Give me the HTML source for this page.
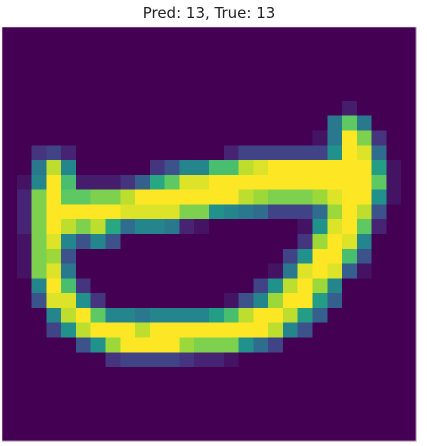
<!DOCTYPE html>
<html><head><meta charset="utf-8"><style>
html,body{margin:0;padding:0;background:#fff;width:427px;height:446px;overflow:hidden}
svg{display:block}
</style></head><body>
<svg id="chart" width="427" height="446" viewBox="0 0 427 446" xmlns="http://www.w3.org/2000/svg">
<text x="209" y="18" text-anchor="middle" font-family="DejaVu Sans, Liberation Sans, sans-serif" font-size="15" fill="#222">Pred: 13, True: 13</text>
<g id="cells" shape-rendering="crispEdges"></g>
<rect x="2" y="27" width="414" height="414" fill="none" stroke="#ddd" stroke-width="0.6"/>
</svg>
<script>
const predLabel = 13;
const trueLabel = 13;
const pixelRows = [
[0,0,0,0,0,0,0,0,0,0,0,0,0,0,0,0,0,0,0,0,0,0,0,0,0,0,0,0],
[0,0,0,0,0,0,0,0,0,0,0,0,0,0,0,0,0,0,0,0,0,0,0,0,0,0,0,0],
[0,0,0,0,0,0,0,0,0,0,0,0,0,0,0,0,0,0,0,0,0,0,0,0,0,0,0,0],
[0,0,0,0,0,0,0,0,0,0,0,0,0,0,0,0,0,0,0,0,0,0,0,0,0,0,0,0],
[0,0,0,0,0,0,0,0,0,0,0,0,0,0,0,0,0,0,0,0,0,0,0,0,0,0,0,0],
[0,0,0,0,0,0,0,0,0,0,0,0,0,0,0,0,0,0,0,0,0,0,0,8,0,0,0,0],
[0,0,0,0,0,0,0,0,0,0,0,0,0,0,0,0,0,0,0,0,0,0,40,75,40,0,0,0],
[0,0,0,0,0,0,0,0,0,0,0,0,0,0,0,0,0,0,0,0,0,5,40,100,80,15,0,0],
[0,0,15,20,10,0,0,0,0,0,0,0,0,0,0,10,20,20,20,20,20,20,50,100,95,35,0,0],
[0,0,40,90,45,0,0,0,0,0,15,25,45,45,70,70,90,95,100,100,100,100,100,100,100,55,5,0],
[0,5,45,100,70,8,8,8,15,30,60,75,95,95,100,100,100,100,100,100,100,100,100,100,100,75,5,0],
[0,10,80,100,75,75,80,80,90,100,100,100,100,100,100,100,90,85,80,80,80,85,95,100,100,50,5,0],
[0,10,80,100,100,100,100,100,95,95,95,95,80,80,50,45,40,35,20,20,20,35,85,100,90,25,0,0],
[0,10,80,100,90,80,90,60,35,45,45,40,10,5,0,0,0,0,0,0,5,50,95,100,75,10,0,0],
[0,5,80,95,45,25,45,25,0,0,0,0,0,0,0,0,0,0,0,0,15,85,100,95,45,0,0,0],
[0,5,80,85,25,0,0,0,0,0,0,0,0,0,0,0,0,0,0,20,50,100,100,70,25,0,0,0],
[0,5,80,95,40,0,0,0,0,0,0,0,0,0,0,0,0,0,5,40,95,100,95,30,5,0,0,0],
[0,0,45,100,70,15,0,0,0,0,0,0,0,0,0,0,0,20,50,90,100,85,45,0,0,0,0,0],
[0,0,25,95,95,50,15,0,0,0,0,0,0,0,0,5,25,45,85,100,100,55,30,0,0,0,0,0],
[0,0,0,45,90,100,75,45,45,40,45,45,45,45,55,70,90,100,100,90,55,30,0,0,0,0,0,0],
[0,0,0,20,50,90,100,100,100,90,100,100,100,100,100,100,100,100,90,45,25,0,0,0,0,0,0,0],
[0,0,0,0,0,25,50,85,100,100,100,100,85,80,80,80,50,35,20,0,0,0,0,0,0,0,0,0],
[0,0,0,0,0,0,0,15,20,20,20,20,15,10,10,5,0,0,0,0,0,0,0,0,0,0,0,0],
[0,0,0,0,0,0,0,0,0,0,0,0,0,0,0,0,0,0,0,0,0,0,0,0,0,0,0,0],
[0,0,0,0,0,0,0,0,0,0,0,0,0,0,0,0,0,0,0,0,0,0,0,0,0,0,0,0],
[0,0,0,0,0,0,0,0,0,0,0,0,0,0,0,0,0,0,0,0,0,0,0,0,0,0,0,0],
[0,0,0,0,0,0,0,0,0,0,0,0,0,0,0,0,0,0,0,0,0,0,0,0,0,0,0,0],
[0,0,0,0,0,0,0,0,0,0,0,0,0,0,0,0,0,0,0,0,0,0,0,0,0,0,0,0]
];
const plotX = 2, plotY = 27, plotSize = 414;
const nRows = pixelRows.length, nCols = pixelRows[0].length;
const xScale = c => plotX + c * plotSize / nCols;
const yScale = r => plotY + r * plotSize / nRows;
const stops = ["#440154","#472d7b","#3b528b","#2c728e","#21918c","#28ae80","#5ec962","#addc30","#fde725"];
function hex(h){return [1,3,5].map(i=>parseInt(h.substr(i,2),16));}
function viridis(v){
  v=Math.max(0,Math.min(1,v));
  const p=v*(stops.length-1), i=Math.min(Math.floor(p),stops.length-2), t=p-i;
  const a=hex(stops[i]), b=hex(stops[i+1]);
  return "rgb("+a.map((x,k)=>Math.round(x+(b[k]-x)*t)).join(",")+")";
}
const g=document.getElementById("cells");
const ns="http://www.w3.org/2000/svg";
let maxV=0; pixelRows.forEach(r=>r.forEach(v=>{if(v>maxV)maxV=v;}));
pixelRows.forEach((row,r)=>row.forEach((v,c)=>{
  const el=document.createElementNS(ns,"rect");
  const x0=xScale(c), x1=xScale(c+1), y0=yScale(r), y1=yScale(r+1);
  el.setAttribute("x",x0.toFixed(2));
  el.setAttribute("y",y0.toFixed(2));
  el.setAttribute("width",(x1-x0+0.6).toFixed(2));
  el.setAttribute("height",(y1-y0+0.6).toFixed(2));
  el.setAttribute("fill",viridis(maxV?v/maxV:0));
  
  
  g.appendChild(el);
}));
</script>
</body></html>
